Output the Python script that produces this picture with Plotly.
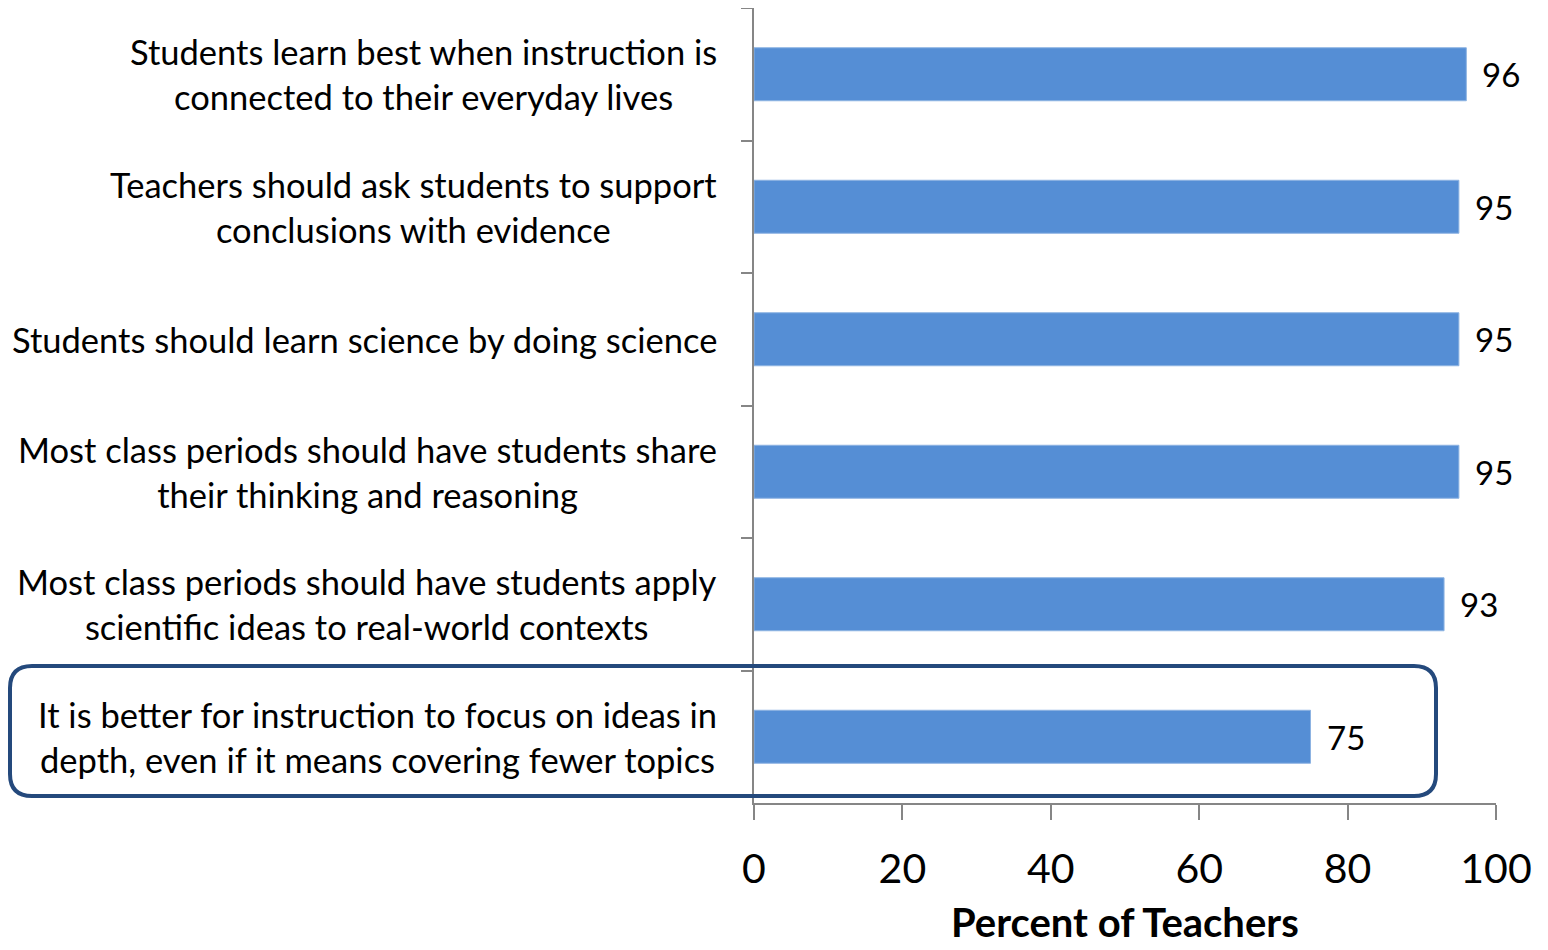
import plotly.graph_objects as go

categories = [
    "Students learn best when instruction is<br>connected to their everyday lives",
    "Teachers should ask students to support<br>conclusions with evidence",
    "Students should learn science by doing science",
    "Most class periods should have students share<br>their thinking and reasoning",
    "Most class periods should have students apply<br>scientific ideas to real-world contexts",
    "It is better for instruction to focus on ideas in<br>depth, even if it means covering fewer topics",
]
values = [96, 95, 95, 95, 93, 75]
x_ticks = [0, 20, 40, 60, 80, 100]
x_title = "Percent of Teachers"

FONT = "Lato"
AXIS_GREY = "#868686"

fig = go.Figure()
fig.add_trace(go.Bar(
    x=values, y=categories, orientation="h", width=0.4,
    marker=dict(color="#558ED5", line=dict(color="#8DB3E2", width=1)),
    hoverinfo="x+y",
))

for c, v in zip(categories, values):
    fig.add_annotation(x=0, xref="paper", y=c, yref="y", text=c, showarrow=False,
                       xanchor="right", xshift=-35, align="center",
                       font=dict(family=FONT, size=34.5, color="#000000"))
    fig.add_annotation(x=v, xref="x", y=c, yref="y", text=str(v), showarrow=False,
                       xanchor="left", xshift=14,
                       font=dict(family=FONT, size=33, color="#000000"))

fig.add_annotation(x=0.5, xref="paper", y=0, yref="paper", yshift=-93, yanchor="top",
                   text="<b>" + x_title + "</b>", showarrow=False,
                   font=dict(family=FONT, size=40, color="#000000"))

# rounded highlight box around the last category
r = 22
x0, x1, y0, y1 = -744, 682, 7, 137
path = (f"M {x0+r},{y0} L {x1-r},{y0} Q {x1},{y0} {x1},{y0+r} "
        f"L {x1},{y1-r} Q {x1},{y1} {x1-r},{y1} L {x0+r},{y1} "
        f"Q {x0},{y1} {x0},{y1-r} L {x0},{y0+r} Q {x0},{y0} {x0+r},{y0} Z")
fig.add_shape(type="path", xref="paper", yref="paper", xsizemode="pixel", ysizemode="pixel",
              xanchor=0, yanchor=0, path=path, line=dict(color="#24497C", width=4),
              fillcolor="rgba(0,0,0,0)", layer="above")

fig.update_layout(
    width=1540, height=942,
    margin=dict(l=746, r=52, t=0, b=147),
    paper_bgcolor="white", plot_bgcolor="white",
    showlegend=False,
    xaxis=dict(range=[0, 100], tickvals=x_ticks, showline=True, linecolor=AXIS_GREY, linewidth=1.5,
               ticks="outside", ticklen=15, tickcolor=AXIS_GREY, tickwidth=1.5,
               showgrid=False, zeroline=False, ticklabelstandoff=14,
               tickfont=dict(family=FONT, size=41, color="#000000")),
    yaxis=dict(range=[5.5, -0.5], showline=True, linecolor=AXIS_GREY, linewidth=1.5,
               ticks="outside", ticklen=11, tickcolor=AXIS_GREY, tickwidth=1.5,
               tickson="boundaries", showticklabels=False, showgrid=False, zeroline=False),
)

fig.write_html("out.html")
